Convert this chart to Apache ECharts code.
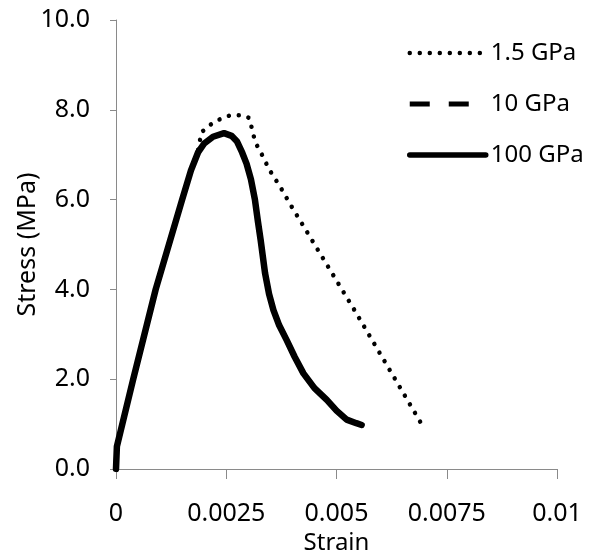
<!DOCTYPE html>
<html>
<head>
<meta charset="utf-8">
<script src="https://cdn.jsdelivr.net/npm/echarts@6/dist/echarts.min.js"></script>
<style>
html,body{margin:0;padding:0;background:#fff;}
#chart{width:589px;height:552px;}
</style>
</head>
<body>
<div id="chart"></div>
<script>
// Data
var seriesNames = ['1.5 GPa', '10 GPa', '100 GPa'];
var xTicks = [0, 0.0025, 0.005, 0.0075, 0.01];
var yTicks = [0, 2, 4, 6, 8, 10];

var strain_1_5 = [0, 0.00002, 0.00039, 0.0009, 0.0015, 0.0017, 0.00186, 0.00194, 0.0021, 0.00225, 0.00242, 0.0026, 0.00285, 0.00302, 0.00308, 0.00313, 0.0032, 0.0033, 0.00348, 0.00372, 0.00396, 0.0054, 0.00695];
var stress_1_5 = [0, 0.5, 2.0, 4.0, 6.0, 6.65, 7.1, 7.5, 7.64, 7.74, 7.82, 7.88, 7.88, 7.82, 7.59, 7.39, 7.2, 7.02, 6.66, 6.29, 5.88, 3.55, 0.965];

var strain_10 = [0, 0.00002, 0.00039, 0.0009, 0.0015, 0.0017, 0.00186, 0.002, 0.0022, 0.00245, 0.00262, 0.00274, 0.00286, 0.00296, 0.00306, 0.00315, 0.00322, 0.00328, 0.00338, 0.00347, 0.00357, 0.0037, 0.00387, 0.00405, 0.00425, 0.0045, 0.00478, 0.005, 0.00523, 0.00545, 0.00557];
var stress_10 = [0, 0.5, 2.0, 4.0, 6.0, 6.65, 7.05, 7.25, 7.4, 7.48, 7.42, 7.3, 7.05, 6.8, 6.45, 6.0, 5.5, 5.1, 4.36, 3.9, 3.54, 3.2, 2.87, 2.5, 2.13, 1.8, 1.54, 1.3, 1.1, 1.02, 0.98];

var strain_100 = [0, 0.00002, 0.00039, 0.0009, 0.0015, 0.0017, 0.00186, 0.002, 0.0022, 0.00245, 0.00262, 0.00274, 0.00286, 0.00296, 0.00306, 0.00315, 0.00322, 0.00328, 0.00338, 0.00347, 0.00357, 0.0037, 0.00387, 0.00405, 0.00425, 0.0045, 0.00478, 0.005, 0.00523, 0.00545, 0.00557];
var stress_100 = [0, 0.5, 2.0, 4.0, 6.0, 6.65, 7.05, 7.25, 7.4, 7.48, 7.42, 7.3, 7.05, 6.8, 6.45, 6.0, 5.5, 5.1, 4.36, 3.9, 3.54, 3.2, 2.87, 2.5, 2.13, 1.8, 1.54, 1.3, 1.1, 1.02, 0.98];

function pairs(xs, ys) { return xs.map(function (x, i) { return [x, ys[i]]; }); }

var FONT = 'Noto Sans';
var dotStyle = {color: '#000', width: 4.5, type: [0.01, 10], cap: 'round'};
var dashStyle = {color: '#000', width: 5, type: [20, 19], cap: 'butt'};
var solidStyle = {color: '#000', width: 6.5, type: 'solid', cap: 'round', join: 'round'};

var chart = echarts.init(document.getElementById('chart'), null, {renderer: 'canvas'});
chart.setOption({
  animation: false,
  backgroundColor: '#fff',
  grid: {left: 116, right: 32, top: 20, bottom: 83, containLabel: false, outerBoundsMode: 'none'},
  legend: {
    orient: 'vertical',
    left: 407,
    top: 41,
    padding: 0,
    itemWidth: 76,
    itemHeight: 24,
    itemGap: 27,
    itemStyle: {opacity: 0},
    textStyle: {fontFamily: FONT, fontSize: 24, color: '#000', lineHeight: 24},
    data: [
      {name: seriesNames[0], lineStyle: dotStyle, itemStyle: {opacity: 0}},
      {name: seriesNames[1], lineStyle: dashStyle, itemStyle: {opacity: 0}},
      {name: seriesNames[2], lineStyle: {color: '#000', width: 5.5, type: 'solid', cap: 'round'}, itemStyle: {opacity: 0}}
    ]
  },
  xAxis: {
    type: 'value',
    min: xTicks[0],
    max: xTicks[xTicks.length - 1],
    interval: 0.0025,
    name: 'Strain',
    nameLocation: 'middle',
    nameGap: 62,
    nameMoveOverlap: false,
    nameTextStyle: {fontFamily: FONT, fontSize: 24, color: '#000'},
    axisLine: {show: true, lineStyle: {color: '#8a8a8a', width: 1}},
    axisTick: {show: true, length: 10, lineStyle: {color: '#8a8a8a'}},
    axisLabel: {fontFamily: FONT, fontSize: 25, color: '#000', margin: 32,
      formatter: function (v) { return String(parseFloat(v.toFixed(4))); }},
    splitLine: {show: false}
  },
  yAxis: {
    type: 'value',
    min: yTicks[0],
    max: yTicks[yTicks.length - 1],
    interval: 2,
    name: 'Stress (MPa)',
    nameLocation: 'middle',
    nameGap: 76,
    nameMoveOverlap: false,
    nameTextStyle: {fontFamily: FONT, fontSize: 25, color: '#000'},
    axisLine: {show: true, lineStyle: {color: '#8a8a8a', width: 1}},
    axisTick: {show: true, length: 6, lineStyle: {color: '#8a8a8a'}},
    axisLabel: {fontFamily: FONT, fontSize: 25, color: '#000', margin: 26,
      formatter: function (v) { return v.toFixed(1); }},
    splitLine: {show: false}
  },
  series: [
    {
      name: seriesNames[0], type: 'line', symbol: 'none', smooth: false,
      data: pairs(strain_1_5, stress_1_5),
      lineStyle: dotStyle,
      itemStyle: {color: '#000'}
    },
    {
      name: seriesNames[1], type: 'line', symbol: 'none', smooth: false,
      data: pairs(strain_10, stress_10),
      lineStyle: dashStyle,
      itemStyle: {color: '#000'}
    },
    {
      name: seriesNames[2], type: 'line', symbol: 'none', smooth: false,
      data: pairs(strain_100, stress_100),
      lineStyle: solidStyle,
      itemStyle: {color: '#000'}
    }
  ]
});
</script>
</body>
</html>
